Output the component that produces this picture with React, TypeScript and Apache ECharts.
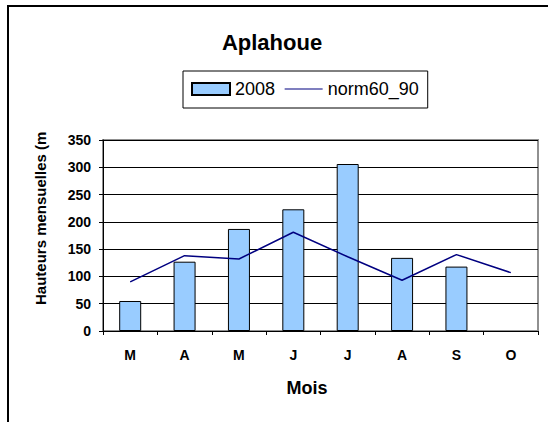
import React, { useEffect, useRef } from "react";
import * as echarts from "echarts";

const months = ["M", "A", "M", "J", "J", "A", "S", "O"];
const rain2008 = [55, 127, 187, 223, 306, 134, 118, null];
const norm6090 = [90, 138, 132, 181, 136, 93, 140, 107];
const yTicks = [0, 50, 100, 150, 200, 250, 300, 350];

export default function App() {
  const ref = useRef<HTMLDivElement>(null);
  useEffect(() => {
    if (!ref.current) return;
    const chart = echarts.init(ref.current, null, { renderer: "svg" });
    const font = "Liberation Sans, Arial, sans-serif";
    chart.setOption({
      animation: false,
      backgroundColor: "#ffffff",
      textStyle: { fontFamily: font },
      title: {
        text: "Aplahoue",
        left: 267,
        textAlign: "center",
        top: 26,
        textStyle: { fontFamily: font, fontWeight: "bold", fontSize: 22, color: "#000" },
      },
      legend: {
        left: 183,
        top: 71,
        padding: [9, 9, 10, 8],
        itemGap: 9,
        itemWidth: 38,
        itemHeight: 12,
        borderColor: "#000",
        borderWidth: 1,
        textStyle: { fontFamily: font, fontSize: 18, color: "#000" },
        data: [
          { name: "2008", icon: "rect" },
          {
            name: "norm60_90",
            itemStyle: { color: "rgba(0,0,0,0)", borderWidth: 0, opacity: 0 },
            lineStyle: { color: "#000080", width: 1.2 },
          },
        ],
      },
      grid: {
        left: 103,
        top: 140,
        right: 10,
        bottom: 91,
        show: true,
        borderColor: "#909090",
        borderWidth: 2,
        backgroundColor: "transparent",
      },
      xAxis: {
        type: "category",
        data: months,
        boundaryGap: true,
        axisLine: { lineStyle: { color: "#000", width: 1 } },
        axisTick: { show: true, length: 4, lineStyle: { color: "#000" } },
        axisLabel: { fontFamily: font, fontWeight: "bold", fontSize: 14, color: "#000", margin: 17 },
        splitLine: { show: false },
      },
      yAxis: {
        type: "value",
        min: 0,
        max: yTicks[yTicks.length - 1],
        interval: 50,
        axisLine: { show: true, lineStyle: { color: "#000", width: 1 } },
        axisTick: { show: true, length: 4, lineStyle: { color: "#000" } },
        axisLabel: { fontFamily: font, fontWeight: "bold", fontSize: 14, color: "#000", margin: 12 },
        splitLine: { show: true, lineStyle: { color: "#000", width: 1 } },
      },
      graphic: [
        {
          type: "rect",
          shape: { x: 8, y: 6, width: 600, height: 500 },
          style: { fill: "none", stroke: "#000", lineWidth: 2 },
          silent: true,
        },
        {
          type: "text",
          x: 40,
          y: 305,
          rotation: Math.PI / 2,
          style: {
            text: "Hauteurs mensuelles (mm)",
            fontFamily: font,
            fontWeight: "bold",
            fontSize: 15,
            fill: "#000",
            align: "left",
            verticalAlign: "middle",
            width: 181,
            overflow: "truncate",
            ellipsis: "",
          },
        },
        {
          type: "text",
          x: 307,
          y: 388,
          style: {
            text: "Mois",
            fontFamily: font,
            fontWeight: "bold",
            fontSize: 18,
            fill: "#000",
            align: "center",
            verticalAlign: "middle",
          },
        },
      ],
      series: [
        {
          name: "2008",
          type: "bar",
          data: rain2008,
          barWidth: 22,
          itemStyle: { color: "#99CCFF", borderColor: "#000", borderWidth: 1 },
        },
        {
          name: "norm60_90",
          type: "line",
          data: norm6090,
          symbol: "none",
          lineStyle: { color: "#000080", width: 1.5 },
          itemStyle: { color: "#000080" },
        },
      ],
    });
    return () => chart.dispose();
  }, []);
  return (
    <div
      ref={ref}
      style={{ position: "fixed", left: 0, top: 0, width: 548, height: 422 }}
    />
  );
}
